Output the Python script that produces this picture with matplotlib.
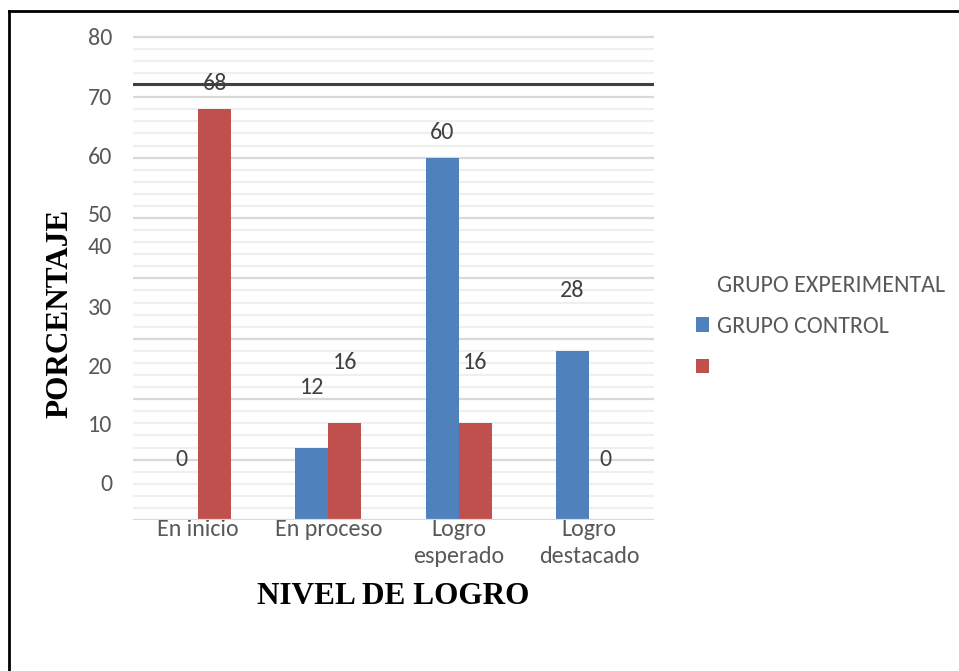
import matplotlib
matplotlib.use("Agg")
import matplotlib.pyplot as plt
from matplotlib.patches import Patch
from matplotlib.lines import Line2D
import numpy as np

categories = ["En inicio", "En proceso", "Logro\nesperado", "Logro\ndestacado"]
grupo_control = [0, 12, 60, 28]
grupo_experimental = [68, 16, 16, 0]
ytick_labels = ["0", "10", "20", "30", "40", "50", "60", "70", "80"]
ytick_label_pos = [6.2, 15.9, 25.5, 35.3, 45.4, 50.8, 60.3, 70.2, 80.0]
legend_labels = ["GRUPO EXPERIMENTAL", "GRUPO CONTROL", ""]
ref_line = 72.2

W, H = 959, 671
fig = plt.figure(figsize=(W / 100, H / 100), dpi=100)
fig.patch.set_facecolor("white")

left, right, bottom_px, top_px = 133, 654, 520, 33.2
ax = fig.add_axes([left / W, (H - bottom_px) / H, (right - left) / W, (bottom_px - top_px) / H])

blue = "#4f81bd"
red = "#c0504d"
tick_color = "#595959"
lbl_color = "#404040"
sans = ["Carlito", "Lato", "DejaVu Sans"]
fs = 17.3

x = np.arange(len(categories))
bw = 0.254
ax.bar(x - bw / 2, grupo_control, bw, color=blue, zorder=3)
ax.bar(x + bw / 2, grupo_experimental, bw, color=red, zorder=3)

ax.set_xlim(-0.5, len(categories) - 0.5)
ax.set_ylim(0, 80.6)

# gridlines
for v in np.arange(2, 81, 2):
    major = (v % 10 == 0)
    ax.axhline(v, color="#d9d9d9" if major else "#efefef", lw=1.6, zorder=1)
ax.axhline(0, color="#d9d9d9", lw=1.6, zorder=4)
ax.axhline(ref_line, color="#404040", lw=2.2, zorder=5)

for s in ax.spines.values():
    s.set_visible(False)

ax.set_yticks(ytick_label_pos)
ax.set_yticklabels(ytick_labels, fontfamily=sans, fontsize=fs, color=tick_color)
ax.set_xticks(x)
ax.set_xticklabels(categories, fontfamily=sans, fontsize=fs, color=tick_color)
for t in ax.get_xticklabels():
    t.set_linespacing(1.4)
ax.tick_params(axis="y", length=0, pad=15)
ax.tick_params(axis="x", length=0, pad=-1)

# data labels
for i, (c, e) in enumerate(zip(grupo_control, grupo_experimental)):
    for val, off in ((c, -bw / 2), (e, bw / 2)):
        dy = 10 if val < 50 else 4.2
        ax.text(i + off, val + dy, str(val), ha="center", va="center",
                fontfamily=sans, fontsize=fs, color=lbl_color, zorder=6)

serif = ["Liberation Serif", "DejaVu Serif"]
ax.set_xlabel("NIVEL DE LOGRO", fontfamily=serif, fontweight="bold", fontsize=22.5, color="black", va="center")
ax.xaxis.set_label_coords(0.5, -77 / (bottom_px - top_px))
ax.set_ylabel("PORCENTAJE", fontfamily=serif, fontweight="bold", fontsize=22.5, color="black", va="center", ha="center")
ax.yaxis.set_label_coords(-73 / (right - left), (bottom_px - 313) / (bottom_px - top_px))

handles = [Patch(facecolor="none", edgecolor="none"), Patch(facecolor=blue), Patch(facecolor=red)]
leg = fig.legend(handles, legend_labels, loc="upper left", bbox_to_anchor=(686 / W, 1 - 265 / H),
                 frameon=False, prop={"family": sans, "size": fs}, handlelength=0.55, handleheight=0.55,
                 handletextpad=0.35, labelspacing=0.85, borderaxespad=0)
for t in leg.get_texts():
    t.set_color(tick_color)

# outer frame (left and top)
fig.add_artist(Line2D([9 / W, 9 / W], [0, 1 - 11 / H], color="black", lw=2, transform=fig.transFigure))
fig.add_artist(Line2D([9 / W, 1], [1 - 11 / H, 1 - 11 / H], color="black", lw=2, transform=fig.transFigure))

fig.savefig("out.png", dpi=100)
